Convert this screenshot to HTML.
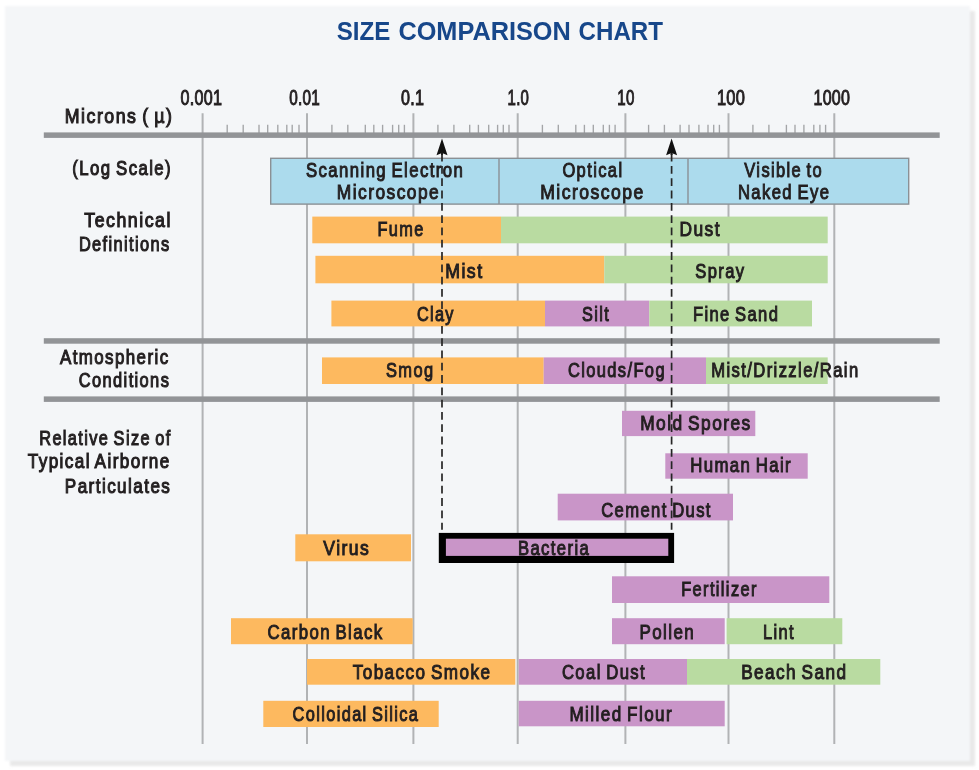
<!DOCTYPE html>
<html lang="en">
<head>
<meta charset="utf-8">
<title>Size Comparison Chart</title>
<style>
html,body{margin:0;padding:0;background:#fff;}
body{width:979px;height:770px;overflow:hidden;position:relative;font-family:"Liberation Sans",sans-serif;}
#panel{position:absolute;left:5px;top:5.5px;width:965.2px;height:755.1px;background:#f4f6f8;box-shadow:5px 5px 1.5px 0 #e8e8e8;filter:blur(0.9px);}
svg{position:absolute;left:0;top:0;filter:blur(0.45px);}
text{font-family:"Liberation Sans",sans-serif;white-space:pre;}
</style>
</head>
<body>
<div id="panel"></div>
<svg width="979" height="770" viewBox="0 0 979 770">
<g stroke="#b1b3b5" stroke-width="2">
<line x1="202.6" y1="113.3" x2="202.6" y2="744"/>
<line x1="307.0" y1="113.3" x2="307.0" y2="744"/>
<line x1="413.4" y1="113.3" x2="413.4" y2="744"/>
<line x1="517.7" y1="113.3" x2="517.7" y2="744"/>
<line x1="625.4" y1="113.3" x2="625.4" y2="744"/>
<line x1="728.5" y1="113.3" x2="728.5" y2="744"/>
<line x1="834.3" y1="113.3" x2="834.3" y2="744"/>
</g>
<g stroke="#a3a5a7" stroke-width="1.35">
<line x1="227.2" y1="124.8" x2="227.2" y2="133"/>
<line x1="243.2" y1="124.8" x2="243.2" y2="133"/>
<line x1="259.0" y1="124.8" x2="259.0" y2="133"/>
<line x1="267.7" y1="124.8" x2="267.7" y2="133"/>
<line x1="277.8" y1="124.8" x2="277.8" y2="133"/>
<line x1="286.8" y1="124.8" x2="286.8" y2="133"/>
<line x1="292.2" y1="124.8" x2="292.2" y2="133"/>
<line x1="299.0" y1="124.8" x2="299.0" y2="133"/>
<line x1="331.9" y1="124.8" x2="331.9" y2="133"/>
<line x1="347.8" y1="124.8" x2="347.8" y2="133"/>
<line x1="365.3" y1="124.8" x2="365.3" y2="133"/>
<line x1="373.8" y1="124.8" x2="373.8" y2="133"/>
<line x1="382.6" y1="124.8" x2="382.6" y2="133"/>
<line x1="392.6" y1="124.8" x2="392.6" y2="133"/>
<line x1="398.7" y1="124.8" x2="398.7" y2="133"/>
<line x1="404.4" y1="124.8" x2="404.4" y2="133"/>
<line x1="437.9" y1="124.8" x2="437.9" y2="133"/>
<line x1="453.9" y1="124.8" x2="453.9" y2="133"/>
<line x1="469.7" y1="124.8" x2="469.7" y2="133"/>
<line x1="478.4" y1="124.8" x2="478.4" y2="133"/>
<line x1="488.7" y1="124.8" x2="488.7" y2="133"/>
<line x1="497.6" y1="124.8" x2="497.6" y2="133"/>
<line x1="503.3" y1="124.8" x2="503.3" y2="133"/>
<line x1="509.0" y1="124.8" x2="509.0" y2="133"/>
<line x1="542.4" y1="124.8" x2="542.4" y2="133"/>
<line x1="558.3" y1="124.8" x2="558.3" y2="133"/>
<line x1="575.8" y1="124.8" x2="575.8" y2="133"/>
<line x1="584.4" y1="124.8" x2="584.4" y2="133"/>
<line x1="593.3" y1="124.8" x2="593.3" y2="133"/>
<line x1="603.3" y1="124.8" x2="603.3" y2="133"/>
<line x1="609.4" y1="124.8" x2="609.4" y2="133"/>
<line x1="615.1" y1="124.8" x2="615.1" y2="133"/>
<line x1="648.6" y1="124.8" x2="648.6" y2="133"/>
<line x1="664.4" y1="124.8" x2="664.4" y2="133"/>
<line x1="680.1" y1="124.8" x2="680.1" y2="133"/>
<line x1="689.0" y1="124.8" x2="689.0" y2="133"/>
<line x1="698.9" y1="124.8" x2="698.9" y2="133"/>
<line x1="708.0" y1="124.8" x2="708.0" y2="133"/>
<line x1="713.7" y1="124.8" x2="713.7" y2="133"/>
<line x1="719.4" y1="124.8" x2="719.4" y2="133"/>
<line x1="752.9" y1="124.8" x2="752.9" y2="133"/>
<line x1="768.9" y1="124.8" x2="768.9" y2="133"/>
<line x1="786.4" y1="124.8" x2="786.4" y2="133"/>
<line x1="795.0" y1="124.8" x2="795.0" y2="133"/>
<line x1="803.9" y1="124.8" x2="803.9" y2="133"/>
<line x1="813.8" y1="124.8" x2="813.8" y2="133"/>
<line x1="819.9" y1="124.8" x2="819.9" y2="133"/>
<line x1="825.6" y1="124.8" x2="825.6" y2="133"/>
</g>
<rect x="43.8" y="132.4" width="895.9" height="5.5" fill="#929497"/>
<rect x="43.8" y="338.2" width="895.9" height="5.5" fill="#929497"/>
<rect x="43.8" y="396.4" width="895.9" height="5.5" fill="#929497"/>
<rect x="270.7" y="158.3" width="638" height="45.8" fill="#acdbed" stroke="#8b9095" stroke-width="1.4"/>
<line x1="499.0" y1="158.3" x2="499.0" y2="204.1" stroke="#8b9095" stroke-width="1.4"/>
<line x1="688.0" y1="158.3" x2="688.0" y2="204.1" stroke="#8b9095" stroke-width="1.4"/>
<rect x="312.3" y="216.6" width="188.7" height="26.7" fill="#fdb95f"/>
<rect x="501.0" y="216.6" width="326.7" height="26.7" fill="#b9dba1"/>
<rect x="315.4" y="255.8" width="288.9" height="27.5" fill="#fdb95f"/>
<rect x="604.3" y="255.8" width="223.4" height="27.5" fill="#b9dba1"/>
<rect x="331.4" y="300.6" width="213.6" height="25.8" fill="#fdb95f"/>
<rect x="545.0" y="300.6" width="104.3" height="25.8" fill="#c995c8"/>
<rect x="649.3" y="300.6" width="162.7" height="25.8" fill="#b9dba1"/>
<rect x="322.0" y="357.4" width="221.7" height="26.6" fill="#fdb95f"/>
<rect x="543.7" y="357.4" width="162.3" height="26.6" fill="#c995c8"/>
<rect x="706.0" y="357.4" width="121.7" height="26.6" fill="#b9dba1"/>
<rect x="622.0" y="410.8" width="133.3" height="25.3" fill="#c995c8"/>
<rect x="665.3" y="453.3" width="142.4" height="25.4" fill="#c995c8"/>
<rect x="557.7" y="493.7" width="175.3" height="26.7" fill="#c995c8"/>
<rect x="295.3" y="534.3" width="115.7" height="27.0" fill="#fdb95f"/>
<rect x="612.0" y="576.3" width="217.3" height="26.7" fill="#c995c8"/>
<rect x="231.0" y="618.2" width="181.7" height="26.0" fill="#fdb95f"/>
<rect x="612.0" y="618.2" width="112.7" height="26.0" fill="#c995c8"/>
<rect x="726.6" y="618.2" width="115.7" height="26.0" fill="#b9dba1"/>
<rect x="307.0" y="659.0" width="208.3" height="25.7" fill="#fdb95f"/>
<rect x="518.7" y="659.0" width="168.3" height="25.7" fill="#c995c8"/>
<rect x="687.0" y="659.0" width="193.3" height="25.7" fill="#b9dba1"/>
<rect x="263.3" y="700.8" width="175.4" height="26.2" fill="#fdb95f"/>
<rect x="518.7" y="700.8" width="206.0" height="25.5" fill="#c995c8"/>
<rect x="438.8" y="532.9" width="235.3" height="30.1" fill="#000"/>
<rect x="445.9" y="538.7" width="222.4" height="17.2" fill="#c995c8"/>
<text transform="translate(64.82 123.3) scale(0.8760 1)" font-size="20.3" fill="#231f20" stroke="#231f20" stroke-width="1.08" letter-spacing="1.7" word-spacing="-2">Microns ( µ)</text>
<text transform="translate(72.37 175.3) scale(0.8274 1)" font-size="20.3" fill="#231f20" stroke="#231f20" stroke-width="1.08" letter-spacing="1.7" word-spacing="-2">(Log Scale)</text>
<text transform="translate(84.30 227.0) scale(0.8763 1)" font-size="20.3" fill="#231f20" stroke="#231f20" stroke-width="1.08" letter-spacing="1.7" word-spacing="-2">Technical</text>
<text transform="translate(78.89 250.7) scale(0.8091 1)" font-size="20.3" fill="#231f20" stroke="#231f20" stroke-width="1.08" letter-spacing="1.7" word-spacing="-2">Definitions</text>
<text transform="translate(60.00 363.6) scale(0.8331 1)" font-size="20.3" fill="#231f20" stroke="#231f20" stroke-width="1.08" letter-spacing="1.7" word-spacing="-2">Atmospheric</text>
<text transform="translate(78.79 387.0) scale(0.8100 1)" font-size="20.3" fill="#231f20" stroke="#231f20" stroke-width="1.08" letter-spacing="1.7" word-spacing="-2">Conditions</text>
<text transform="translate(39.19 445.0) scale(0.8068 1)" font-size="20.3" fill="#231f20" stroke="#231f20" stroke-width="1.08" letter-spacing="1.7" word-spacing="-2">Relative Size of</text>
<text transform="translate(27.70 468.3) scale(0.8443 1)" font-size="20.3" fill="#231f20" stroke="#231f20" stroke-width="1.08" letter-spacing="1.7" word-spacing="-2">Typical Airborne</text>
<text transform="translate(64.86 492.8) scale(0.8423 1)" font-size="20.3" fill="#231f20" stroke="#231f20" stroke-width="1.08" letter-spacing="1.7" word-spacing="-2">Particulates</text>
<text transform="translate(180.60 104.6) scale(0.7574 1)" font-size="21.3" fill="#231f20" stroke="#231f20" stroke-width="1.0" letter-spacing="0.3" word-spacing="-2">0.001</text>
<text transform="translate(289.30 104.6) scale(0.7190 1)" font-size="21.3" fill="#231f20" stroke="#231f20" stroke-width="1.0" letter-spacing="0.3" word-spacing="-2">0.01</text>
<text transform="translate(401.00 104.6) scale(0.7567 1)" font-size="21.3" fill="#231f20" stroke="#231f20" stroke-width="1.0" letter-spacing="0.3" word-spacing="-2">0.1</text>
<text transform="translate(507.60 104.6) scale(0.7034 1)" font-size="21.3" fill="#231f20" stroke="#231f20" stroke-width="1.0" letter-spacing="0.3" word-spacing="-2">1.0</text>
<text transform="translate(617.29 104.6) scale(0.7087 1)" font-size="21.3" fill="#231f20" stroke="#231f20" stroke-width="1.0" letter-spacing="0.3" word-spacing="-2">10</text>
<text transform="translate(716.93 104.6) scale(0.7714 1)" font-size="21.3" fill="#231f20" stroke="#231f20" stroke-width="1.0" letter-spacing="0.3" word-spacing="-2">100</text>
<text transform="translate(813.55 104.6) scale(0.7532 1)" font-size="21.3" fill="#231f20" stroke="#231f20" stroke-width="1.0" letter-spacing="0.3" word-spacing="-2">1000</text>
<text transform="translate(306.00 176.7) scale(0.8254 1)" font-size="20.3" fill="#231f20" stroke="#231f20" stroke-width="1.0" letter-spacing="1.7" word-spacing="-2">Scanning Electron</text>
<text transform="translate(336.84 199.0) scale(0.8559 1)" font-size="20.3" fill="#231f20" stroke="#231f20" stroke-width="1.0" letter-spacing="1.7" word-spacing="-2">Microscope</text>
<text transform="translate(562.39 176.7) scale(0.8141 1)" font-size="20.3" fill="#231f20" stroke="#231f20" stroke-width="1.0" letter-spacing="1.7" word-spacing="-2">Optical</text>
<text transform="translate(540.13 199.0) scale(0.8669 1)" font-size="20.3" fill="#231f20" stroke="#231f20" stroke-width="1.0" letter-spacing="1.7" word-spacing="-2">Microscope</text>
<text transform="translate(744.30 177.0) scale(0.8116 1)" font-size="20.3" fill="#231f20" stroke="#231f20" stroke-width="1.0" letter-spacing="1.7" word-spacing="-2">Visible to</text>
<text transform="translate(737.88 199.0) scale(0.8211 1)" font-size="20.3" fill="#231f20" stroke="#231f20" stroke-width="1.0" letter-spacing="1.7" word-spacing="-2">Naked Eye</text>
<text transform="translate(377.50 236.2) scale(0.8036 1)" font-size="20.3" fill="#231f20" stroke="#231f20" stroke-width="1.0" letter-spacing="1.7" word-spacing="-2">Fume</text>
<text transform="translate(679.44 236.2) scale(0.8565 1)" font-size="20.3" fill="#231f20" stroke="#231f20" stroke-width="1.0" letter-spacing="1.7" word-spacing="-2">Dust</text>
<text transform="translate(445.13 278.1) scale(0.8738 1)" font-size="20.3" fill="#231f20" stroke="#231f20" stroke-width="1.0" letter-spacing="1.7" word-spacing="-2">Mist</text>
<text transform="translate(695.30 278.1) scale(0.8167 1)" font-size="20.3" fill="#231f20" stroke="#231f20" stroke-width="1.0" letter-spacing="1.7" word-spacing="-2">Spray</text>
<text transform="translate(416.90 321.3) scale(0.8000 1)" font-size="20.3" fill="#231f20" stroke="#231f20" stroke-width="1.0" letter-spacing="1.7" word-spacing="-2">Clay</text>
<text transform="translate(582.00 321.3) scale(0.8029 1)" font-size="20.3" fill="#231f20" stroke="#231f20" stroke-width="1.0" letter-spacing="1.7" word-spacing="-2">Silt</text>
<text transform="translate(692.88 321.3) scale(0.8167 1)" font-size="20.3" fill="#231f20" stroke="#231f20" stroke-width="1.0" letter-spacing="1.7" word-spacing="-2">Fine Sand</text>
<text transform="translate(386.00 377.3) scale(0.8105 1)" font-size="20.3" fill="#231f20" stroke="#231f20" stroke-width="1.0" letter-spacing="1.7" word-spacing="-2">Smog</text>
<text transform="translate(567.89 377.3) scale(0.8120 1)" font-size="20.3" fill="#231f20" stroke="#231f20" stroke-width="1.0" letter-spacing="1.7" word-spacing="-2">Clouds/Fog</text>
<text transform="translate(711.18 377.3) scale(0.8192 1)" font-size="20.3" fill="#231f20" stroke="#231f20" stroke-width="1.0" letter-spacing="1.7" word-spacing="-2">Mist/Drizzle/Rain</text>
<text transform="translate(640.15 429.6) scale(0.8539 1)" font-size="20.3" fill="#231f20" stroke="#231f20" stroke-width="1.0" letter-spacing="1.7" word-spacing="-2">Mold Spores</text>
<text transform="translate(690.17 472.3) scale(0.8264 1)" font-size="20.3" fill="#231f20" stroke="#231f20" stroke-width="1.0" letter-spacing="1.7" word-spacing="-2">Human Hair</text>
<text transform="translate(601.18 516.5) scale(0.8195 1)" font-size="20.3" fill="#231f20" stroke="#231f20" stroke-width="1.0" letter-spacing="1.7" word-spacing="-2">Cement Dust</text>
<text transform="translate(323.30 554.9) scale(0.8654 1)" font-size="20.3" fill="#231f20" stroke="#231f20" stroke-width="1.0" letter-spacing="1.7" word-spacing="-2">Virus</text>
<text transform="translate(517.88 555.2) scale(0.8209 1)" font-size="20.3" fill="#231f20" stroke="#231f20" stroke-width="1.0" letter-spacing="1.7" word-spacing="-2">Bacteria</text>
<text transform="translate(681.19 596.3) scale(0.8076 1)" font-size="20.3" fill="#231f20" stroke="#231f20" stroke-width="1.0" letter-spacing="1.7" word-spacing="-2">Fertilizer</text>
<text transform="translate(267.47 638.7) scale(0.8290 1)" font-size="20.3" fill="#231f20" stroke="#231f20" stroke-width="1.0" letter-spacing="1.7" word-spacing="-2">Carbon Black</text>
<text transform="translate(639.46 638.7) scale(0.8365 1)" font-size="20.3" fill="#231f20" stroke="#231f20" stroke-width="1.0" letter-spacing="1.7" word-spacing="-2">Pollen</text>
<text transform="translate(762.89 638.7) scale(0.8108 1)" font-size="20.3" fill="#231f20" stroke="#231f20" stroke-width="1.0" letter-spacing="1.7" word-spacing="-2">Lint</text>
<text transform="translate(352.70 678.8) scale(0.8432 1)" font-size="20.3" fill="#231f20" stroke="#231f20" stroke-width="1.0" letter-spacing="1.7" word-spacing="-2">Tobacco Smoke</text>
<text transform="translate(561.88 678.8) scale(0.8230 1)" font-size="20.3" fill="#231f20" stroke="#231f20" stroke-width="1.0" letter-spacing="1.7" word-spacing="-2">Coal Dust</text>
<text transform="translate(741.15 678.8) scale(0.8467 1)" font-size="20.3" fill="#231f20" stroke="#231f20" stroke-width="1.0" letter-spacing="1.7" word-spacing="-2">Beach Sand</text>
<text transform="translate(292.49 720.9) scale(0.8065 1)" font-size="20.3" fill="#231f20" stroke="#231f20" stroke-width="1.0" letter-spacing="1.7" word-spacing="-2">Colloidal Silica</text>
<text transform="translate(569.46 720.9) scale(0.8405 1)" font-size="20.3" fill="#231f20" stroke="#231f20" stroke-width="1.0" letter-spacing="1.7" word-spacing="-2">Milled Flour</text>
<text transform="translate(336.67 40.1) scale(0.9286 1)" font-size="26" font-weight="bold" fill="#17478a">SIZE</text>
<text transform="translate(398.43 40.1) scale(0.9731 1)" font-size="26" font-weight="bold" fill="#17478a">COMPARISON</text>
<text transform="translate(578.57 40.1) scale(0.9278 1)" font-size="26" font-weight="bold" fill="#17478a">CHART</text>
<line x1="442.0" y1="153.7" x2="442.0" y2="529.8" stroke="#262626" stroke-width="1.7" stroke-dasharray="7.8 4.5"/>
<path d="M442.0 138.6 L447.5 155.2 L442.0 153 L436.5 155.2 Z" fill="#111"/>
<line x1="442.0" y1="152.5" x2="442.0" y2="155" stroke="#1c1c1c" stroke-width="2"/>
<line x1="671.6" y1="153.7" x2="671.6" y2="529.8" stroke="#262626" stroke-width="1.7" stroke-dasharray="7.8 4.5"/>
<path d="M671.6 138.6 L677.1 155.2 L671.6 153 L666.1 155.2 Z" fill="#111"/>
<line x1="671.6" y1="152.5" x2="671.6" y2="155" stroke="#1c1c1c" stroke-width="2"/>
</svg>
</body>
</html>
